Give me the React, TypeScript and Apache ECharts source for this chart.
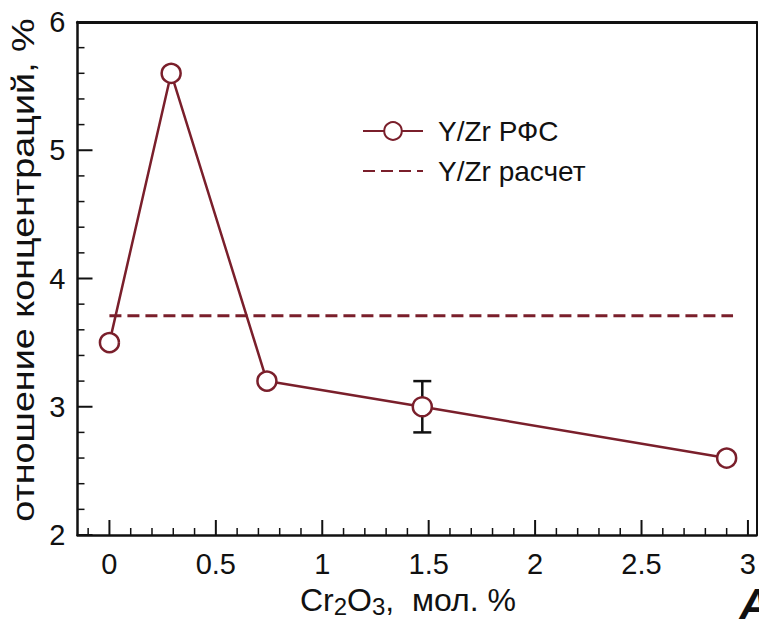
import React, { useEffect, useRef } from "react";
import * as echarts from "echarts";

// Cr2O3 content, mol. %
const cr2o3 = [0, 0.29, 0.74, 1.47, 2.9];
// measured Y/Zr concentration ratio (XPS), %
const ratioXps = [3.5, 5.6, 3.2, 3.0, 2.6];
// error bar at 1.47 mol. %: [x, low, high]
const errorBars = [[1.47, 2.8, 3.2]];
// calculated Y/Zr ratio (constant)
const ratioCalc = 3.71;
const calcRange = [0, 2.93];

const X_MIN = -0.15;
const X_MAX = 3.04;
const Y_MIN = 2;
const Y_MAX = 6;

const xTickValues = [0, 0.5, 1, 1.5, 2, 2.5, 3];
const xMinorTickValues = [-0.1, 0.1, 0.2, 0.3, 0.4, 0.6, 0.7, 0.8, 0.9, 1.1, 1.2, 1.3, 1.4, 1.6, 1.7, 1.8, 1.9, 2.1, 2.2, 2.3, 2.4, 2.6, 2.7, 2.8, 2.9];
const yTickValues = [2, 3, 4, 5, 6];
const yMinorTickValues = [2.2, 2.4, 2.6, 2.8, 3.2, 3.4, 3.6, 3.8, 4.2, 4.4, 4.6, 4.8, 5.2, 5.4, 5.6, 5.8];

const RED = "#7a1f2b";
const INK = "#111111";
const FONT = "Liberation Sans, Arial, sans-serif";

const MAJOR_LEN = 15;
const MINOR_LEN = 7;

// tick marks pointing into the plot: [x, y, length, direction(0 = up, 1 = right)]
const tickData = [
  ...xTickValues.map((v) => [v, Y_MIN, MAJOR_LEN, 0]),
  ...xMinorTickValues.map((v) => [v, Y_MIN, MINOR_LEN, 0]),
  ...yTickValues.map((v) => [X_MIN, v, MAJOR_LEN, 1]),
  ...yMinorTickValues.map((v) => [X_MIN, v, MINOR_LEN, 1]),
];

export default function App() {
  const ref = useRef<HTMLDivElement>(null);

  useEffect(() => {
    if (!ref.current) return;
    const chart = echarts.init(ref.current, undefined, { renderer: "svg" });

    const option: echarts.EChartsOption = {
      animation: false,
      backgroundColor: "#ffffff",
      textStyle: { fontFamily: FONT },
      grid: {
        left: 77.5,
        right: 1.5,
        top: 22,
        bottom: 84,
        show: false,
      },
      legend: {
        orient: "vertical",
        left: 362,
        top: 116,
        padding: 0,
        itemWidth: 60,
        itemHeight: 22,
        itemGap: 10,
        textStyle: {
          fontFamily: FONT,
          fontSize: 28,
          lineHeight: 30,
          color: INK,
          padding: [0, 0, 0, 10],
        },
        data: [
          { name: "Y/Zr РФС" },
          { name: "Y/Zr расчет", itemStyle: { opacity: 0 } },
        ],
      },
      xAxis: [
        {
          type: "value",
          min: X_MIN,
          max: X_MAX,
          position: "bottom",
          axisLine: { show: true, onZero: false, lineStyle: { color: INK, width: 2.5 } },
          axisTick: { show: false },
          axisLabel: {
            customValues: xTickValues,
            margin: 14,
            fontSize: 29,
            fontFamily: FONT,
            color: INK,
            formatter: (v: number) => String(v),
          },
          splitLine: { show: false },
        },
        {
          // top frame edge
          type: "value",
          min: X_MIN,
          max: X_MAX,
          position: "top",
          axisLine: { show: true, onZero: false, lineStyle: { color: INK, width: 3 } },
          axisTick: { show: false },
          axisLabel: { show: false },
          splitLine: { show: false },
        },
      ],
      yAxis: [
        {
          type: "value",
          min: Y_MIN,
          max: Y_MAX,
          interval: 1,
          position: "left",
          axisLine: { show: true, onZero: false, lineStyle: { color: INK, width: 2.5 } },
          axisTick: { show: false },
          axisLabel: {
            margin: 12,
            fontSize: 29,
            fontFamily: FONT,
            color: INK,
            formatter: (v: number) => String(v),
          },
          splitLine: { show: false },
        },
        {
          // right frame edge
          type: "value",
          min: Y_MIN,
          max: Y_MAX,
          position: "right",
          axisLine: { show: true, onZero: false, lineStyle: { color: INK, width: 2 } },
          axisTick: { show: false },
          axisLabel: { show: false },
          splitLine: { show: false },
        },
      ],
      series: [
        {
          name: "ticks",
          type: "custom",
          coordinateSystem: "cartesian2d",
          xAxisIndex: 0,
          yAxisIndex: 0,
          clip: false,
          data: tickData,
          z: 5,
          renderItem: (params: any, api: any) => {
            const x = Number(api.value(0));
            const y = Number(api.value(1));
            const len = Number(api.value(2));
            const dir = Number(api.value(3));
            const p = api.coord([x, y]);
            const q = dir === 0 ? [p[0], p[1] - len] : [p[0] + len, p[1]];
            return {
              type: "polyline",
              shape: { points: [p, q] },
              style: { stroke: INK, lineWidth: len > 10 ? 2 : 1.5, fill: "none" },
            };
          },
        },
        {
          name: "Y/Zr расчет",
          type: "line",
          data: calcRange.map((x) => [x, ratioCalc]),
          symbol: "none",
          lineStyle: { color: RED, width: 3, type: [12, 6] },
          itemStyle: { color: RED },
          z: 2,
        },
        {
          name: "errors",
          type: "custom",
          data: errorBars,
          z: 3,
          renderItem: (params: any, api: any) => {
            const x = api.value(0);
            const lo = api.coord([x, api.value(1)]);
            const hi = api.coord([x, api.value(2)]);
            const half = 9;
            const style = { stroke: INK, lineWidth: 2.5 };
            return {
              type: "group",
              children: [
                { type: "line", shape: { x1: lo[0], y1: lo[1], x2: hi[0], y2: hi[1] }, style },
                { type: "line", shape: { x1: lo[0] - half, y1: lo[1], x2: lo[0] + half, y2: lo[1] }, style },
                { type: "line", shape: { x1: hi[0] - half, y1: hi[1], x2: hi[0] + half, y2: hi[1] }, style },
              ],
            };
          },
        },
        {
          name: "Y/Zr РФС",
          type: "line",
          data: cr2o3.map((x, i) => [x, ratioXps[i]]),
          symbol: "circle",
          symbolSize: 19,
          lineStyle: { color: RED, width: 2.5 },
          itemStyle: { color: "#ffffff", borderColor: RED, borderWidth: 2.5 },
          z: 4,
        },
      ],
      graphic: [
        {
          type: "text",
          x: 23,
          y: 270,
          rotation: Math.PI / 2,
          scaleX: 1.18,
          style: {
            text: "отношение концентраций, %",
            fontFamily: FONT,
            fontSize: 32,
            fill: INK,
            align: "center",
            verticalAlign: "middle",
          },
        },
        {
          type: "text",
          x: 408,
          y: 600,
          style: {
            text: "Cr{sub|2}O{sub|3},  мол. %",
            fontFamily: FONT,
            fontSize: 32,
            fill: INK,
            align: "center",
            verticalAlign: "middle",
            rich: {
              sub: { fontFamily: FONT, fontSize: 24, fill: INK, padding: [12, 0, 0, 0] },
            },
          },
        },
        {
          type: "text",
          x: 739,
          y: 582,
          style: {
            text: "A",
            fontFamily: FONT,
            fontSize: 44,
            fontWeight: "bold",
            fontStyle: "italic",
            fill: INK,
          },
        },
      ],
    };

    chart.setOption(option);
    return () => chart.dispose();
  }, []);

  return (
    <div
      ref={ref}
      style={{ position: "absolute", left: 0, top: 0, width: 759, height: 619 }}
    />
  );
}
